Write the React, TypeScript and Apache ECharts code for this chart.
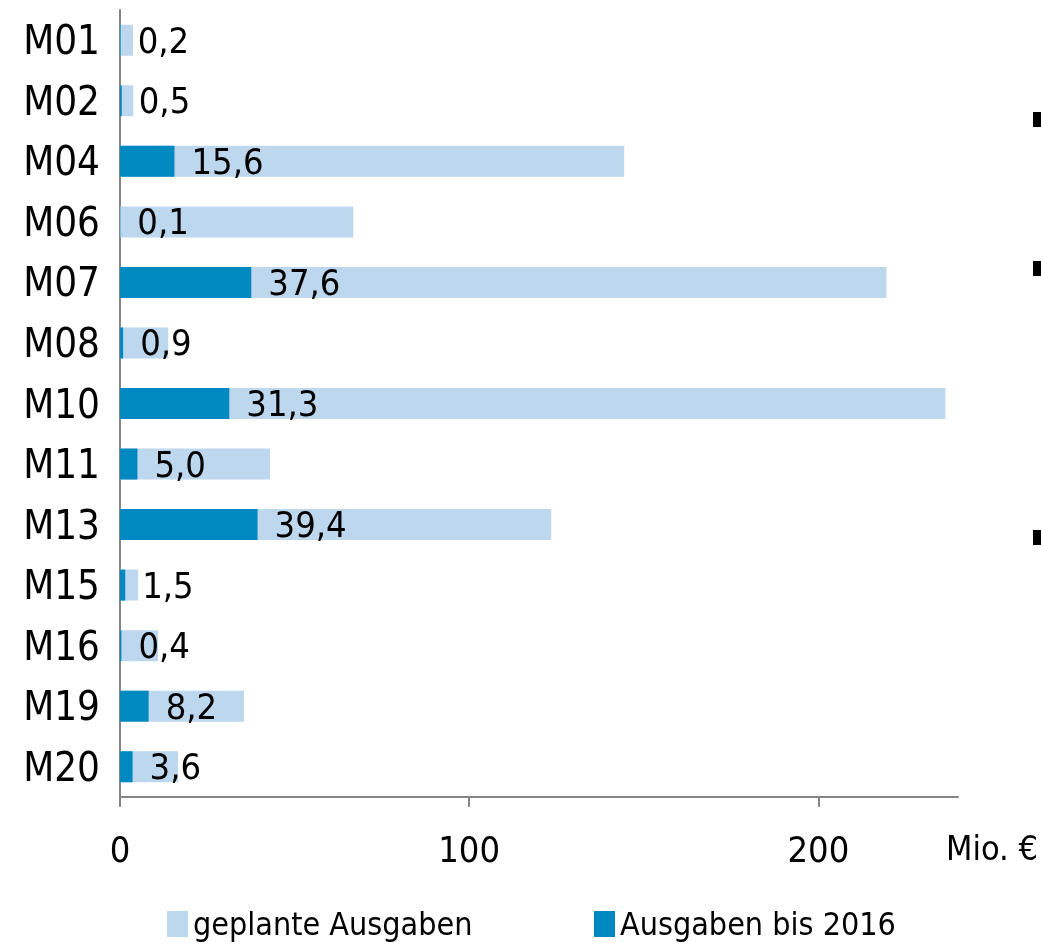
import React, { useEffect, useRef } from "react";
import * as echarts from "echarts";

const categories = ["M01", "M02", "M04", "M06", "M07", "M08", "M10", "M11", "M13", "M15", "M16", "M19", "M20"];
const planned = [3.7, 3.8, 144.4, 66.8, 219.5, 13.8, 236.4, 43.0, 123.5, 5.2, 10.9, 35.5, 16.6];
const spent = [0.2, 0.5, 15.6, 0.1, 37.6, 0.9, 31.3, 5.0, 39.4, 1.5, 0.4, 8.2, 3.6];
const tickValues = [0, 100, 200];
const seriesNames = ["geplante Ausgaben", "Ausgaben bis 2016"];
const unitLabel = "Mio. €";

const FONT = "'Liberation Sans Narrow', 'DejaVu Sans Condensed', 'Liberation Sans', sans-serif";
const LIGHT = "#BDD7EE";
const DARK = "#0088C0";
const FS = 36;

export default function App() {
  const ref = useRef<HTMLDivElement>(null);
  useEffect(() => {
    if (!ref.current) return;
    const chart = echarts.init(ref.current, null, { renderer: "svg" });
    chart.setOption({
      animation: false,
      textStyle: { fontFamily: FONT },
      grid: { left: 120, top: 10, right: 83, bottom: 147, containLabel: false },
      legend: [
        {
          data: [seriesNames[0]],
          left: 167,
          top: 908,
          icon: "rect",
          itemWidth: 21,
          itemHeight: 26,
          itemGap: 8,
          padding: 0,
          textStyle: { fontFamily: FONT, fontSize: 32, color: "#000" },
        },
        {
          data: [seriesNames[1]],
          left: 594,
          top: 908,
          icon: "rect",
          itemWidth: 21,
          itemHeight: 26,
          padding: 0,
          textStyle: { fontFamily: FONT, fontSize: 32, color: "#000" },
        },
      ],
      xAxis: {
        type: "value",
        min: 0,
        max: 240,
        interval: 100,
        splitLine: { show: false },
        axisLine: { show: true, lineStyle: { color: "#868686", width: 2 } },
        axisTick: { show: true, length: 10, customValues: tickValues, lineStyle: { color: "#868686", width: 2 } },
        axisLabel: { customValues: tickValues, fontSize: FS, color: "#000", margin: 34, fontFamily: FONT },
      },
      yAxis: {
        type: "category",
        inverse: true,
        data: categories,
        axisLine: { show: true, lineStyle: { color: "#868686", width: 2 } },
        axisTick: { show: false },
        axisLabel: { fontSize: 40, color: "#000", margin: 20, fontFamily: FONT },
      },
      series: [
        {
          name: seriesNames[0],
          type: "bar",
          data: planned,
          barWidth: 31,
          barGap: "-100%",
          itemStyle: { color: LIGHT },
        },
        {
          name: seriesNames[1],
          type: "bar",
          data: spent,
          barWidth: 31,
          itemStyle: { color: DARK },
          label: {
            show: true,
            position: "right",
            distance: 17,
            fontSize: FS,
            color: "#000",
            fontFamily: FONT,
            formatter: (p: any) => String(p.value.toFixed(1)).replace(".", ","),
          },
        },
      ],
      graphic: [
        {
          type: "text",
          x: 946,
          y: 848,
          style: { text: unitLabel, fontSize: 34, fill: "#000", fontFamily: FONT, textVerticalAlign: "middle" },
        },
        { type: "rect", shape: { x: 1033, y: 112, width: 8, height: 15 }, style: { fill: "#000" } },
        { type: "rect", shape: { x: 1033, y: 261, width: 8, height: 15 }, style: { fill: "#000" } },
        { type: "rect", shape: { x: 1033, y: 530, width: 8, height: 15 }, style: { fill: "#000" } },
      ],
    });
    return () => chart.dispose();
  }, []);
  return <div ref={ref} style={{ position: "fixed", left: 0, top: 0, width: 1041, height: 944 }} />;
}
